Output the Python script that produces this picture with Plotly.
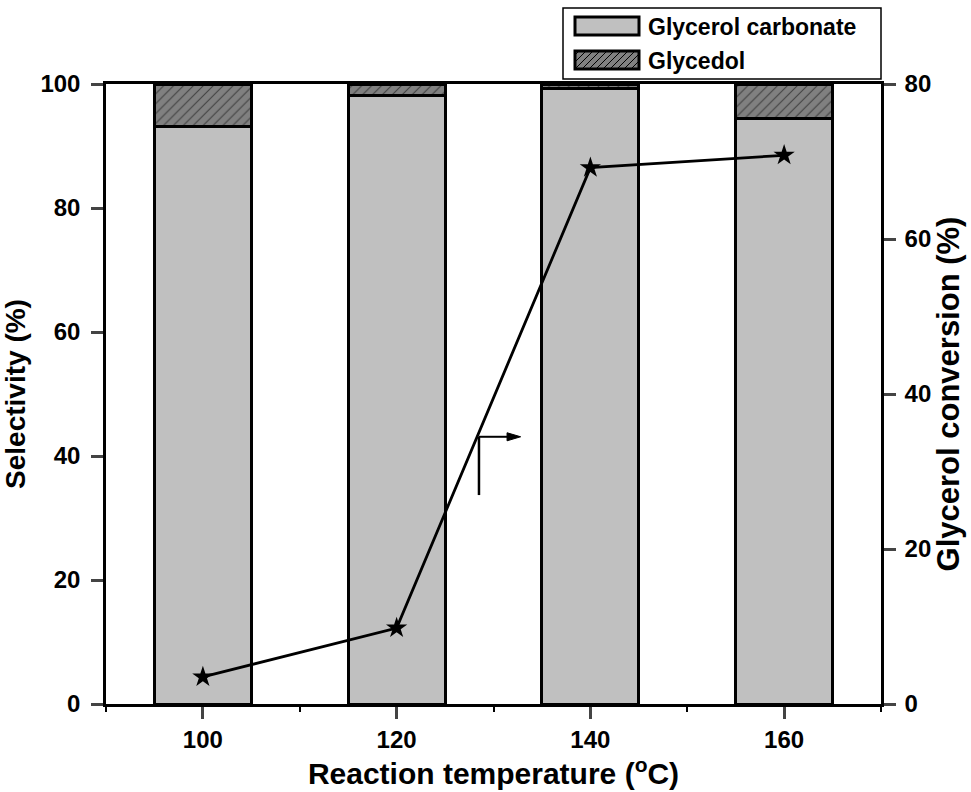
import plotly.graph_objects as go

temperatures = [100, 120, 140, 160]
gc_selectivity = [93.1, 98.2, 99.2, 94.4]
glycidol_selectivity = [6.9, 1.8, 0.8, 5.6]
conversion = [3.5, 9.8, 69.2, 70.8]
x_ticks = [100, 120, 140, 160]
y_ticks = [0, 20, 40, 60, 80, 100]
y2_ticks = [0, 20, 40, 60, 80]
series_names = ["Glycerol carbonate", "Glycedol"]

FONT = "Liberation Sans, Arial, sans-serif"
GC_COLOR = "#C0C0C0"
GLY_COLOR = "#808080"

# plot area in pixels (for placing the hand-drawn legend)
L, R, T, B = 106, 881, 84, 704


def px(x):
    return (x - L) / (R - L)


def py(y):
    return (B - y) / (B - T)


fig = go.Figure()
fig.add_trace(go.Bar(
    x=temperatures, y=gc_selectivity, width=10, name=series_names[0],
    marker=dict(color=GC_COLOR, line=dict(color="black", width=3)),
    showlegend=False,
))
fig.add_trace(go.Bar(
    x=temperatures, y=glycidol_selectivity, width=10, name=series_names[1],
    marker=dict(color=GLY_COLOR, line=dict(color="black", width=3),
                pattern=dict(shape="/", fgcolor="black", bgcolor=GLY_COLOR,
                             size=7, solidity=0.15)),
    showlegend=False,
))
fig.add_trace(go.Scatter(
    x=temperatures, y=conversion, yaxis="y2", mode="lines+markers",
    line=dict(color="black", width=2.8),
    marker=dict(symbol="star", size=16, color="black"),
    showlegend=False,
))

shapes = []
# arrow pointing to the right axis
shapes.append(dict(type="line", xref="x", yref="y", x0=128.5, x1=128.5, y0=33.7, y1=43.1,
                   line=dict(color="black", width=2.5)))
shapes.append(dict(type="line", xref="x", yref="y", x0=128.5, x1=131.6, y0=43.1, y1=43.1,
                   line=dict(color="black", width=2)))
shapes.append(dict(type="path", xref="x", yref="y",
                   path="M 132.8 43.1 L 131.4 43.75 L 131.4 42.45 Z",
                   fillcolor="black", line=dict(color="black", width=1)))

# legend (drawn as layout decoration)
shapes.append(dict(type="rect", xref="paper", yref="paper",
                   x0=px(563), x1=px(881), y0=py(79), y1=py(8),
                   fillcolor="white", line=dict(color="black", width=1.5)))
sw_x0, sw_x1 = 575, 639
rows = [(17, 35, GC_COLOR), (51, 69, GLY_COLOR)]
for (y0, y1, col) in rows:
    shapes.append(dict(type="rect", xref="paper", yref="paper",
                       x0=px(sw_x0), x1=px(sw_x1), y0=py(y1), y1=py(y0),
                       fillcolor=col, line=dict(width=0)))
# hatch lines on the second swatch
hy0, hy1 = rows[1][0], rows[1][1]
c = sw_x0 + hy0 + 4
while c < sw_x1 + hy1:
    xa = max(sw_x0, c - hy1)
    xb = min(sw_x1, c - hy0)
    if xb > xa:
        shapes.append(dict(type="line", xref="paper", yref="paper",
                           x0=px(xa), y0=py(c - xa), x1=px(xb), y1=py(c - xb),
                           line=dict(color="black", width=1)))
    c += 7
for (y0, y1, col) in rows:
    shapes.append(dict(type="rect", xref="paper", yref="paper",
                       x0=px(sw_x0), x1=px(sw_x1), y0=py(y1), y1=py(y0),
                       fillcolor="rgba(0,0,0,0)", line=dict(color="black", width=3)))

annotations = []
for name, (y0, y1, col) in zip(series_names, rows):
    annotations.append(dict(text=name, xref="paper", yref="paper",
                            x=px(646), y=py((y0 + y1) / 2 + 1), xanchor="left", yanchor="middle",
                            showarrow=False,
                            font=dict(family=FONT, size=23, color="black", weight="bold")))

fig.update_layout(
    width=971, height=792,
    margin=dict(l=L, r=971 - R, t=T, b=792 - B),
    paper_bgcolor="white", plot_bgcolor="white",
    barmode="stack",
    font=dict(family=FONT, size=20, color="black"),
    showlegend=False,
    shapes=shapes,
    annotations=annotations,
    xaxis=dict(
        range=[90, 170], tickvals=x_ticks, ticks="outside", ticklen=12, tickwidth=2.5,
        showline=True, linecolor="black", linewidth=2.5, mirror=True,
        showgrid=False, zeroline=False,
        tickfont=dict(family=FONT, size=24, weight="bold"),
        minor=dict(tickvals=[90, 110, 130, 150, 170], ticks="outside", ticklen=5,
                   tickwidth=2, tickcolor="black"),
        title=dict(text="Reaction temperature (<sup>o</sup>C)", standoff=2,
                   font=dict(family=FONT, size=30, weight="bold")),
    ),
    yaxis=dict(
        range=[0, 100], tickvals=y_ticks, ticks="outside", ticklen=12, tickwidth=2.5,
        showline=True, linecolor="black", linewidth=2.5,
        showgrid=False, zeroline=False, ticklabelstandoff=6,
        tickfont=dict(family=FONT, size=24, weight="bold"),
        title=dict(text="Selectivity (%)", standoff=8,
                   font=dict(family=FONT, size=28, weight="bold")),
    ),
    yaxis2=dict(
        range=[0, 80], tickvals=y2_ticks, ticks="outside", ticklen=12, tickwidth=2.5,
        overlaying="y", side="right",
        showline=True, linecolor="black", linewidth=2.5,
        showgrid=False, zeroline=False, ticklabelstandoff=4,
        tickfont=dict(family=FONT, size=24, weight="bold"),
        title=dict(text="Glycerol conversion (%)", standoff=2,
                   font=dict(family=FONT, size=31, weight="bold")),
    ),
)

fig.write_html("out.html")
